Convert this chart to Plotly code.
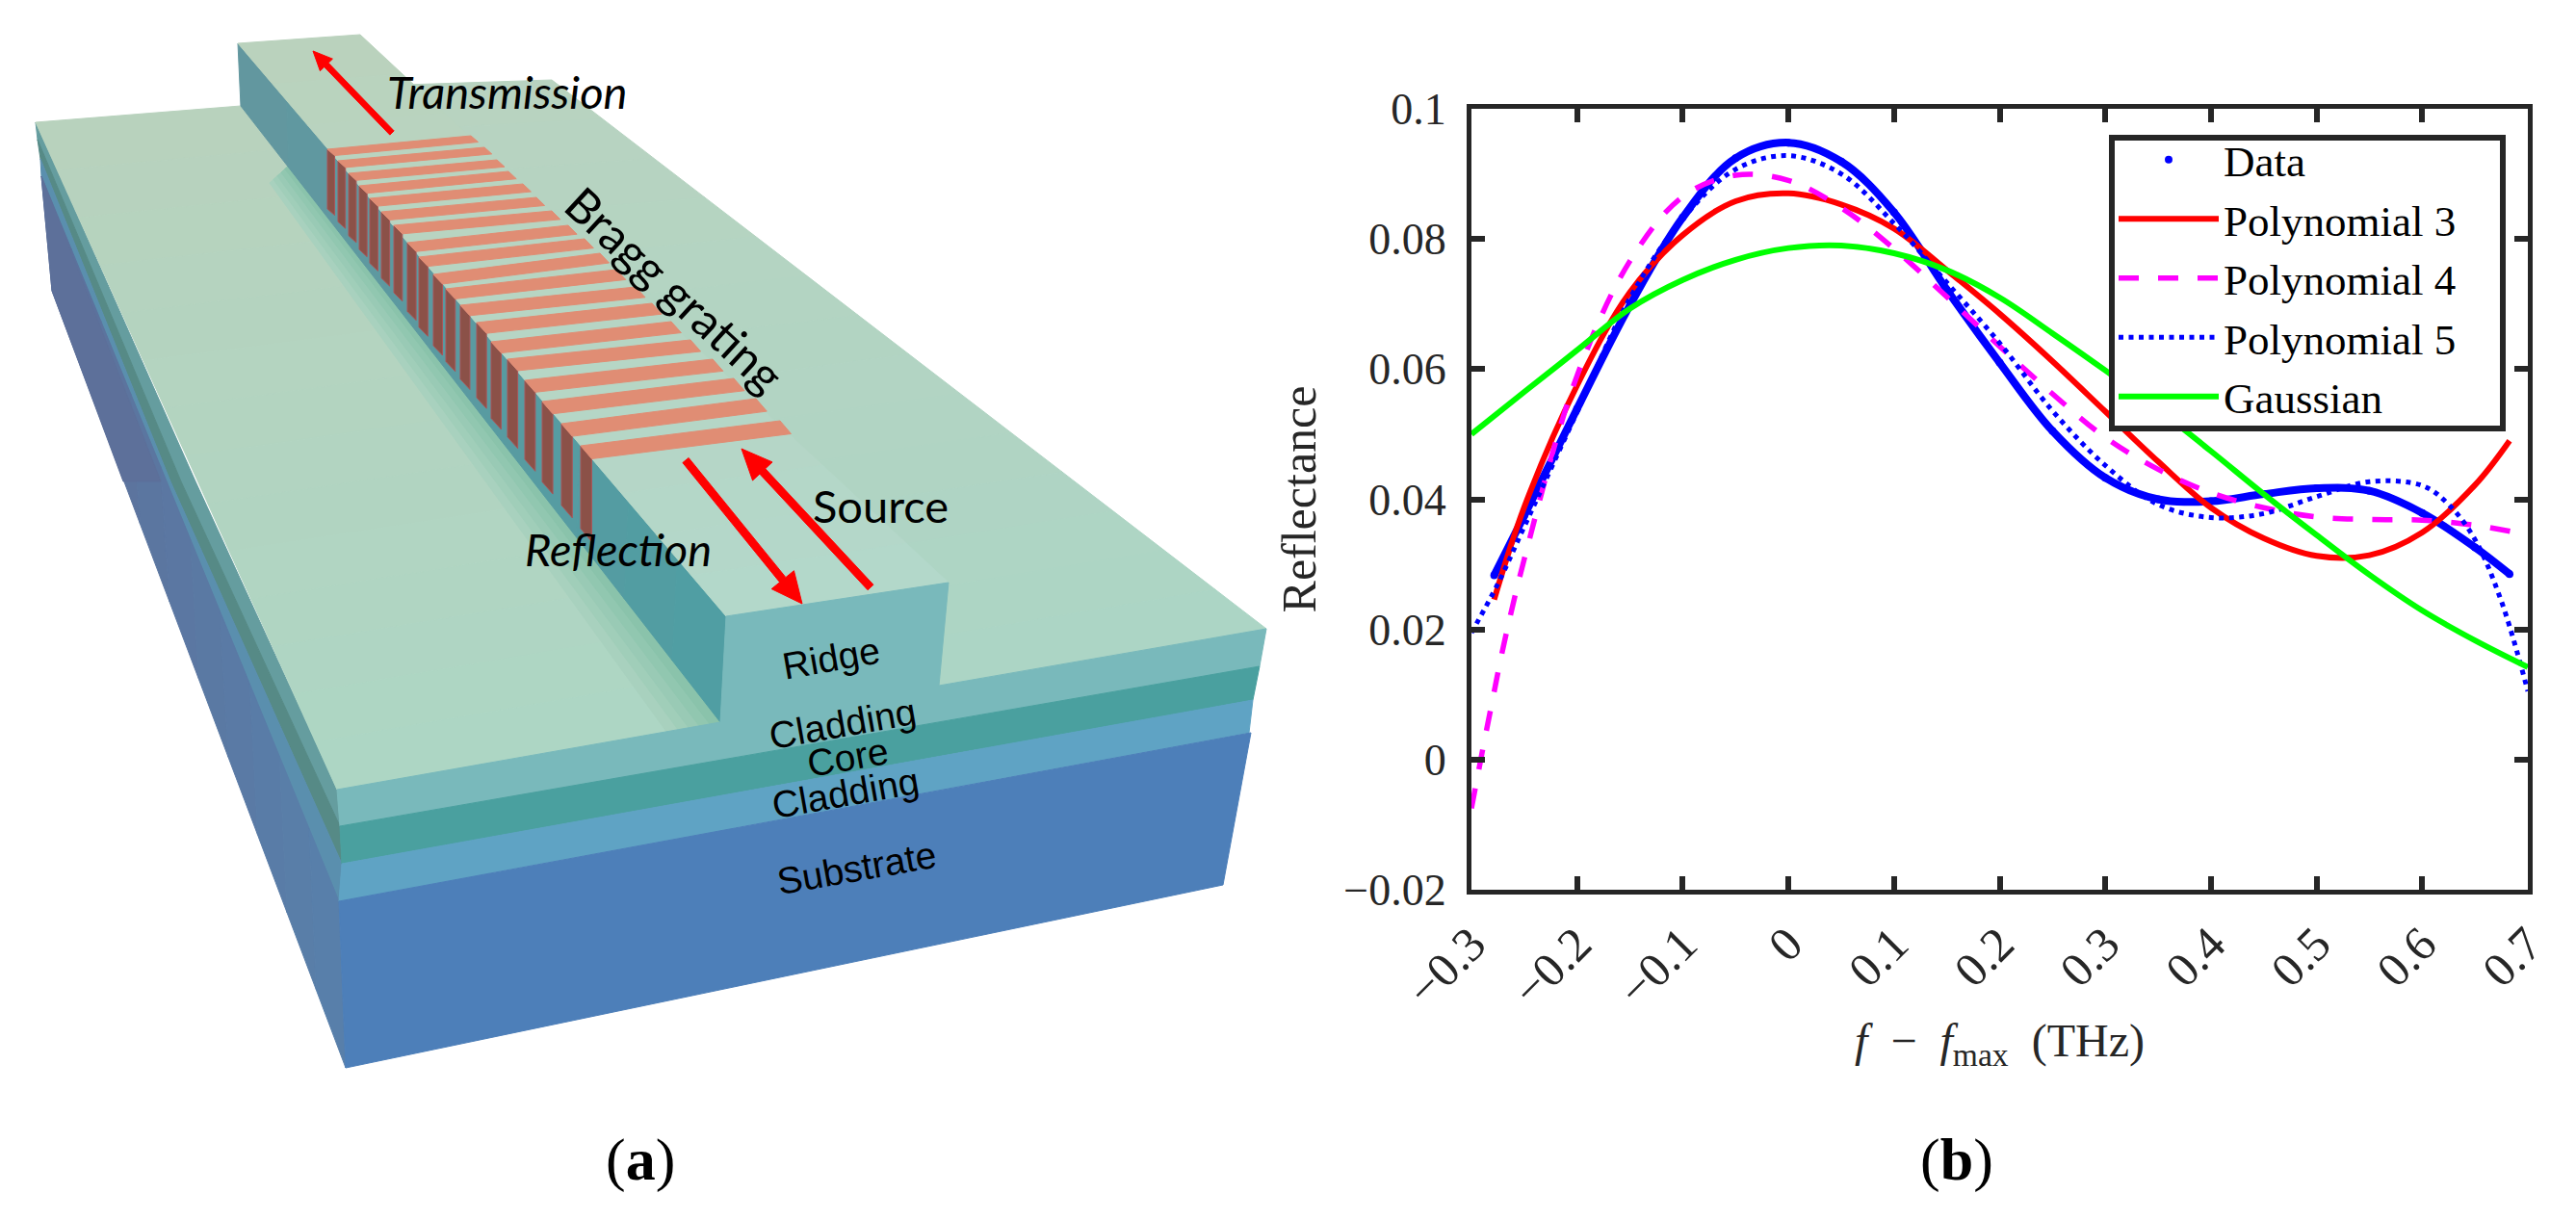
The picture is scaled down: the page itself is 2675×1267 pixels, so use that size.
import plotly.graph_objects as go

W, H = 2675, 1267

# ---------- chart values ----------
x_data = [-0.2785, -0.25, -0.2, -0.15, -0.1, -0.05, 0, 0.05, 0.1, 0.15, 0.2, 0.25, 0.3, 0.35, 0.4, 0.45, 0.5, 0.55, 0.6, 0.65, 0.6827]
y_data = [0.0283, 0.0375, 0.0539, 0.0698, 0.0833, 0.0924, 0.0948, 0.0919, 0.0841, 0.0722, 0.061, 0.0505, 0.0433, 0.04, 0.0397, 0.0408, 0.0417, 0.0413, 0.0379, 0.0326, 0.0285]

x_p3 = [-0.2785, -0.25, -0.2, -0.15, -0.1, -0.05, 0, 0.05, 0.1, 0.15, 0.2, 0.25, 0.3, 0.35, 0.4, 0.45, 0.5, 0.55, 0.6, 0.65, 0.6827]
y_p3 = [0.0246, 0.0388, 0.0575, 0.0718, 0.0806, 0.0858, 0.087, 0.0853, 0.0816, 0.0752, 0.0685, 0.0612, 0.0535, 0.0458, 0.0387, 0.034, 0.0313, 0.0314, 0.0349, 0.0422, 0.049]

x_p4 = [-0.3, -0.29, -0.28, -0.27, -0.25, -0.2, -0.15, -0.1, -0.05, 0, 0.05, 0.1, 0.15, 0.2, 0.25, 0.3, 0.35, 0.4, 0.45, 0.5, 0.55, 0.6, 0.65, 0.6857]
y_p4 = [-0.0075, 0.001, 0.0092, 0.0172, 0.0308, 0.059, 0.0766, 0.0865, 0.0898, 0.089, 0.0848, 0.0785, 0.0711, 0.0635, 0.0562, 0.0495, 0.0446, 0.041, 0.0387, 0.0373, 0.0369, 0.0368, 0.036, 0.035]

x_p5 = [-0.3, -0.275, -0.25, -0.2, -0.15, -0.1, -0.05, 0, 0.05, 0.1, 0.15, 0.2, 0.25, 0.3, 0.35, 0.4, 0.45, 0.5, 0.55, 0.6, 0.625, 0.65, 0.675, 0.7]
y_p5 = [0.0195, 0.027, 0.0358, 0.0534, 0.0709, 0.0831, 0.0907, 0.0928, 0.09, 0.0824, 0.0733, 0.064, 0.0536, 0.0452, 0.0392, 0.0372, 0.0378, 0.0404, 0.0427, 0.0421, 0.0392, 0.0338, 0.0243, 0.0105]

x_gauss = [-0.3, -0.25, -0.2, -0.15, -0.1, -0.05, 0, 0.05, 0.1, 0.15, 0.2, 0.25, 0.3, 0.35, 0.4, 0.45, 0.5, 0.55, 0.6, 0.65, 0.7]
y_gauss = [0.05, 0.0565, 0.0629, 0.0693, 0.0737, 0.0768, 0.0786, 0.079, 0.0778, 0.0752, 0.071, 0.0655, 0.0598, 0.0538, 0.0474, 0.0408, 0.0345, 0.0284, 0.0229, 0.0183, 0.0142]

x_ticks = [-0.3, -0.2, -0.1, 0, 0.1, 0.2, 0.3, 0.4, 0.5, 0.6, 0.7]
x_ticktext = ["\u22120.3", "\u22120.2", "\u22120.1", "0", "0.1", "0.2", "0.3", "0.4", "0.5", "0.6", "0.7"]
y_ticks = [-0.02, 0, 0.02, 0.04, 0.06, 0.08, 0.1]
y_ticktext = ["\u22120.02", "0", "0.02", "0.04", "0.06", "0.08", "0.1"]

INK = "#262626"
SERIF = "Liberation Serif"
SANS = "Liberation Sans"
HUMAN = "Lato"
SMOOTH = 1

# ---------- helpers for the schematic in panel (a), in page pixels ----------
shapes = []

def px(x):
    return x / W

def py(y):
    return 1 - y / H

def poly(pts, fill, line=None, lw=1):
    d = "M " + " L ".join(f"{px(x):.5f},{py(y):.5f}" for x, y in pts) + " Z"
    shapes.append(dict(type="path", xref="paper", yref="paper", path=d, fillcolor=fill,
                       line=dict(color=line or fill, width=lw), layer="below"))

def hex2rgb(c):
    return [int(c[i:i + 2], 16) for i in (1, 3, 5)]

def mix(a, b, t):
    a, b = hex2rgb(a), hex2rgb(b)
    return "#%02x%02x%02x" % tuple(round(a[i] + (b[i] - a[i]) * t) for i in range(3))

def lerp(p, q, t):
    return (p[0] + (q[0] - p[0]) * t, p[1] + (q[1] - p[1]) * t)

def shaded_quad(a1, b1, a2, b2, c1, c2, n=14):
    for i in range(n):
        t0, t1 = i / n, (i + 1) / n
        poly([lerp(a1, a2, t0), lerp(b1, b2, t0), lerp(b1, b2, t1), lerp(a1, a2, t1)], mix(c1, c2, (t0 + t1) / 2))

def arrow(tail, tip, shaft, head_len, head_w, color="#ff0000"):
    dx, dy = tip[0] - tail[0], tip[1] - tail[1]
    n = (dx * dx + dy * dy) ** 0.5
    ux, uy = dx / n, dy / n
    vx, vy = -uy, ux
    bx, by = tip[0] - ux * head_len, tip[1] - uy * head_len
    poly([(tail[0] + vx * shaft / 2, tail[1] + vy * shaft / 2),
          (bx + vx * shaft / 2, by + vy * shaft / 2),
          (bx + vx * head_w / 2, by + vy * head_w / 2),
          tip,
          (bx - vx * head_w / 2, by - vy * head_w / 2),
          (bx - vx * shaft / 2, by - vy * shaft / 2),
          (tail[0] - vx * shaft / 2, tail[1] - vy * shaft / 2)], color)

# left side faces
poly([(39, 145), (188, 500), (353, 858), (350, 820), (203, 500), (37, 127)], "#659d9f")
poly([(42, 165), (177, 500), (355, 897), (353, 858), (188, 500), (39, 145)], "#568a86")
poly([(43, 183), (167, 500), (352, 936), (355, 897), (177, 500), (42, 165)], "#5a8fae")
shaded_quad((43, 183), (54, 302), (352, 936), (359, 1109), "#5d709a", "#5880ab", n=10)
poly([(43, 183), (54, 302), (128, 500), (167, 500)], "#5d709a")

# plateau tops
shaded_quad((37, 127), (250, 110), (350, 820), (748, 750), "#b8d2bd", "#add6c4")
shaded_quad((420, 88), (573, 83), (975, 712), (1315, 653), "#b8d3c0", "#acd5c5")
# soft darker band along the foot of the ridge
band_start, band_end = (300, 172), (748, 750)
for k, (w_back, w_front) in enumerate([(20, 56), (16, 44), (12, 33), (8, 22), (4, 11)]):
    poly([band_start, band_end, (band_end[0] - w_front, band_end[1] + w_front * 0.175),
          (band_start[0] - w_back, band_start[1] + w_back * 0.9)], mix("#afd5c3", "#8ac3ab", (k + 1) / 5))

# ridge wall and top
shaded_quad((247, 45), (250, 110), (754, 640), (748, 750), "#63979f", "#4f9ea3", n=10)
shaded_quad((247, 45), (374, 36), (754, 640), (985, 605), "#bad2bd", "#b3d8ca")

# grating bars: left and right ends on the ridge top
bar_left = [(340, 155), (351, 167), (362, 180), (373, 193), (384, 206), (396, 220), (409, 234), (423, 252), (435, 267), (450, 285),
            (463, 300), (478, 317), (495, 335), (510, 355), (527, 373), (545, 395), (563, 417), (583, 440), (603, 463)]
bar_right = [(489, 141), (503, 153), (516, 166), (528, 178), (543, 191), (557, 205), (573, 219), (590, 234), (607, 248), (623, 263),
             (640, 280), (660, 298), (677, 315), (697, 334), (717, 353), (740, 373), (762, 393), (785, 414), (810, 437)]
n_bars = len(bar_left)
for i, (L, R) in enumerate(zip(bar_left, bar_right)):
    t = i / (n_bars - 1)
    dx, dy = 7.5 + 4 * t, 6.5 + 7 * t
    h = 62 + 24 * t
    poly([L, (L[0] + dx, L[1] + dy), (L[0] + dx, L[1] + dy + h), (L[0], L[1] + h)], "#8b5148", line="#a8565a", lw=1)
    poly([L, R, (R[0] + dx, R[1] + dy), (L[0] + dx, L[1] + dy)], "#e08d74")

# front faces
poly([(350, 820), (748, 750), (754, 640), (985, 605), (975, 712), (1315, 653), (1308, 692), (353, 858)], "#79b9bb")
poly([(353, 858), (1308, 692), (1301, 727), (355, 897)], "#4aa09f")
poly([(355, 897), (1301, 727), (1297, 761), (352, 936)], "#5fa3c4")
poly([(352, 936), (1299, 761), (1270, 919), (359, 1109)], "#4d7fb9")

# arrows
arrow((407, 138), (325, 53), 6, 20, 18)
arrow((904, 610), (770, 466), 8, 32, 28)
arrow((712, 478), (833, 627), 8, 32, 30)

# legend frame: sits above the curves, the native legend is drawn on top of it
shapes.append(dict(type="rect", xref="paper", yref="paper", layer="above",
                   x0=px(2193), x1=px(2599), y0=py(445), y1=py(143),
                   fillcolor="white", line=dict(color=INK, width=6)))

def note(text, x, y, size, family=SANS, angle=0, italic=False, color="#000000"):
    return dict(text=f"<i>{text}</i>" if italic else text, x=px(x), y=py(y), xref="paper", yref="paper",
                xanchor="center", yanchor="middle", showarrow=False, textangle=angle,
                font=dict(size=size, family=family, color=color))

annotations = [
    note("Transmission", 526, 95, 47, HUMAN, italic=True),
    note("Source", 914, 525, 47, HUMAN),
    note("Reflection", 642, 570, 47, HUMAN, italic=True),
    note("Bragg grating", 701, 300, 49, HUMAN, angle=42.7),
    note("Ridge", 863, 683, 39, SANS, angle=-10),
    note("Cladding", 875, 751, 39, SANS, angle=-10),
    note("Core", 880, 786, 39, SANS, angle=-10),
    note("Cladding", 878, 823, 39, SANS, angle=-10),
    note("Substrate", 889, 901, 39, SANS, angle=-10),
    note("(<b>a</b>)", 665, 1204, 62, SERIF),
    note("(<b>b</b>)", 2032, 1204, 62, SERIF),
]

# ---------- chart ----------
fig = go.Figure()
fig.add_trace(go.Scatter(x=x_data, y=y_data, mode="lines", showlegend=False, hoverinfo="skip",
                         line=dict(color="#0000ff", width=8, shape="spline", smoothing=SMOOTH)))
fig.add_trace(go.Scatter(x=x_data, y=y_data, mode="markers", name="Data",
                         marker=dict(color="#0000ff", size=8)))
fig.add_trace(go.Scatter(x=x_p3, y=y_p3, mode="lines", name="Polynomial 3",
                         line=dict(color="#ff0000", width=6, shape="spline", smoothing=SMOOTH)))
fig.add_trace(go.Scatter(x=x_p4, y=y_p4, mode="lines", name="Polynomial 4",
                         line=dict(color="#ff00ff", width=5.5, shape="spline", smoothing=SMOOTH, dash="21px,20px")))
fig.add_trace(go.Scatter(x=x_p5, y=y_p5, mode="lines", name="Polynomial 5",
                         line=dict(color="#0000ff", width=5, shape="spline", smoothing=SMOOTH, dash="5px,5.5px")))
fig.add_trace(go.Scatter(x=x_gauss, y=y_gauss, mode="lines", name="Gaussian",
                         line=dict(color="#00ff00", width=6, shape="spline", smoothing=SMOOTH)))

axis_style = dict(showgrid=False, zeroline=False, showline=True, mirror="allticks", linecolor=INK, linewidth=5,
                  ticks="inside", ticklen=14, tickwidth=5.5, tickcolor=INK, automargin=False)

fig.update_layout(
    width=W, height=H, margin=dict(l=0, r=0, t=0, b=0, autoexpand=False), autosize=False,
    paper_bgcolor="white", plot_bgcolor="white",
    xaxis=dict(domain=[1528 / W, 2625 / W], range=[-0.3, 0.7], tickvals=x_ticks, ticktext=x_ticktext,
               tickangle=-45, ticklabelstandoff=2, tickfont=dict(family=SERIF, size=50, color=INK),
               title=dict(text="<i>f</i>\u2002\u2212\u2002<i>f</i><sub>max</sub>\u2002(THz)", standoff=10,
                          font=dict(family=SERIF, size=48, color=INK)), **axis_style),
    yaxis=dict(domain=[1 - 924 / H, 1 - 113 / H], range=[-0.02, 0.1], tickvals=y_ticks, ticktext=y_ticktext,
               ticklabelstandoff=12, tickfont=dict(family=SERIF, size=46, color=INK),
               title=dict(text="Reflectance", standoff=14, font=dict(family=SERIF, size=50, color=INK)), **axis_style),
    legend=dict(x=2195 / W, y=1 - 289 / H, xanchor="left", yanchor="middle", bgcolor="rgba(0,0,0,0)",
                borderwidth=0, itemwidth=104,
                font=dict(family=SERIF, size=45, color="#000000"),
                traceorder="normal", itemclick=False, itemdoubleclick=False),
    shapes=shapes, annotations=annotations, hovermode=False,
)

fig.write_html("out.html", config={"displayModeBar": False}, post_script="document.body.style.margin='0';")
